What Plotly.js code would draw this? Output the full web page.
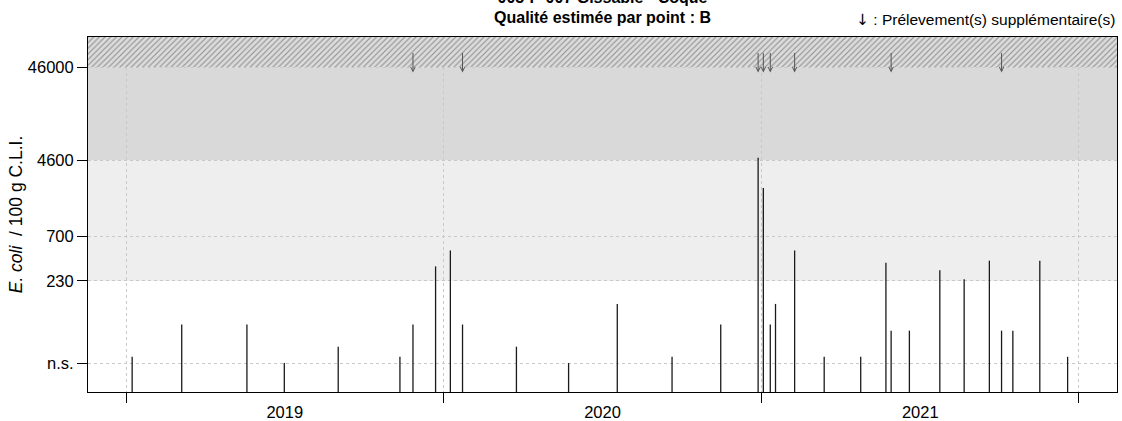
<!DOCTYPE html>
<html>
<head>
<meta charset="utf-8">
<script src="https://cdn.plot.ly/plotly-3.0.1.min.js"></script>
<style>
html,body{margin:0;padding:0;background:#ffffff;}
#chart{width:1122px;height:421px;}
</style>
</head>
<body>
<div id="chart"></div>
<script>
// ---- data ----
const sampleDates = [
  '2019-01-08','2019-03-06','2019-05-20','2019-07-02','2019-09-02','2019-11-12','2019-11-27','2019-12-23',
  '2020-01-09','2020-01-23','2020-03-25','2020-05-24','2020-07-19','2020-09-20','2020-11-15','2020-12-28',
  '2021-01-03','2021-01-11','2021-01-17','2021-02-08','2021-03-14','2021-04-25','2021-05-24','2021-05-30',
  '2021-06-20','2021-07-25','2021-08-22','2021-09-20','2021-10-04','2021-10-17','2021-11-17','2021-12-19'
];
const ecoliValues = [
  35, 78, 78, 30, 45, 35, 78, 330,
  490, 78, 45, 30, 130, 35, 78, 4900,
  2300, 78, 130, 490, 35, 35, 360, 67,
  67, 300, 240, 380, 67, 67, 380, 35
];
const extraSampleDates = [
  '2019-11-27','2020-01-23','2020-12-28','2021-01-03','2021-01-11','2021-02-08','2021-05-30','2021-10-04'
];
const yTickValues = [30, 230, 700, 4600, 46000];
const yTickLabels = ['n.s.', '230', '700', '4600', '46000'];
const bandLimits = [230, 4600, 46000];
const titleLines = ['005-P-007 Gissable - Coque', 'Qualité estimée par point : B'];
const yAxisTitle = '<i>E. coli</i>  / 100 g C.L.I.';
const legendArrow = '↓';
const legendNote = ' : Prélevement(s) supplémentaire(s)';

// ---- layout constants ----
const xRange = ['2018-11-18 04:48', '2022-02-13 19:12'];
const yRangeLog = [1.165, 4.99];
const yBottom = Math.pow(10, yRangeLog[0]);
const yTop = Math.pow(10, yRangeLog[1] + 0.5);
const FONT = 'Liberation Sans, Arial, sans-serif';

// stems
const stemX = [], stemY = [];
sampleDates.forEach((d, i) => {
  stemX.push(d, d, null);
  stemY.push(yBottom, ecoliValues[i], null);
});

const traces = [
  {
    type: 'scatter', mode: 'lines',
    x: [xRange[0], xRange[1], xRange[1], xRange[0], xRange[0]],
    y: [bandLimits[2], bandLimits[2], yTop, yTop, bandLimits[2]],
    fill: 'toself',
    fillcolor: '#d9d9d9',
    fillpattern: {shape: '/', bgcolor: '#dcdcdc', fgcolor: '#8f8f8f', size: 4, solidity: 0.28},
    line: {width: 0, color: 'rgba(0,0,0,0)'},
    hoverinfo: 'skip', showlegend: false
  },
  {
    type: 'scatter', mode: 'lines',
    x: stemX, y: stemY,
    line: {color: '#1a1a1a', width: 1.3},
    hoverinfo: 'skip', showlegend: false
  }
];

const shapes = [
  {type: 'rect', layer: 'below', xref: 'paper', x0: 0, x1: 1, yref: 'y',
   y0: bandLimits[0], y1: bandLimits[1],
   fillcolor: '#eeeeee', line: {width: 0}},
  {type: 'rect', layer: 'below', xref: 'paper', x0: 0, x1: 1, yref: 'y',
   y0: bandLimits[1], y1: bandLimits[2],
   fillcolor: '#d9d9d9', line: {width: 0}}
];

const annotations = extraSampleDates.map(d => ({
  x: d, y: 4.608, xref: 'x', yref: 'y',
  text: '', showarrow: true, ax: 0, ay: -21,
  arrowhead: 5, arrowsize: 0.9, arrowwidth: 1, arrowcolor: '#555555', standoff: 0
}));
annotations.push({
  xref: 'paper', yref: 'paper', x: 1, y: 1.0474, xanchor: 'right', yanchor: 'middle',
  text: '<span style="font-family:\'DejaVu Sans\'">' + legendArrow + '</span>' + legendNote,
  showarrow: false,
  font: {family: FONT, size: 15.5, color: '#000000'}
});

const layout = {
  width: 1122, height: 421,
  margin: {l: 88, r: 5, t: 37, b: 29, pad: 0},
  paper_bgcolor: '#ffffff', plot_bgcolor: '#ffffff',
  title: {
    text: '<b>' + titleLines.join('<br>') + '</b>',
    font: {family: FONT, size: 16, color: '#000000'},
    xref: 'paper', x: 0.5, xanchor: 'center',
    yref: 'container', y: 0.994, yanchor: 'bottom'
  },
  xaxis: {
    type: 'date', range: xRange,
    tick0: '2019-01-01', dtick: 'M12', ticklabelmode: 'period', tickformat: '%Y',
    ticks: 'outside', ticklen: 10, tickwidth: 1, tickcolor: '#000000',
    ticklabelstandoff: -5,
    showgrid: true, gridcolor: '#c8c8c8', griddash: '3px,3px', gridwidth: 1,
    showline: true, linecolor: '#000000', linewidth: 1, mirror: true,
    zeroline: false,
    tickfont: {family: FONT, size: 16.5, color: '#000000'}
  },
  yaxis: {
    type: 'log', range: yRangeLog,
    tickvals: yTickValues, ticktext: yTickLabels,
    ticks: 'outside', ticklen: 10, tickwidth: 1, tickcolor: '#000000',
    showgrid: true, gridcolor: '#c8c8c8', griddash: '3px,3px', gridwidth: 1,
    showline: true, linecolor: '#000000', linewidth: 1, mirror: true,
    zeroline: false,
    tickfont: {family: FONT, size: 16.5, color: '#000000'},
    title: {text: yAxisTitle, font: {family: FONT, size: 17.5, color: '#000000'}, standoff: 0}
  },
  shapes: shapes,
  annotations: annotations,
  showlegend: false
};

Plotly.newPlot('chart', traces, layout, {staticPlot: true, displayModeBar: false});
</script>
</body>
</html>
